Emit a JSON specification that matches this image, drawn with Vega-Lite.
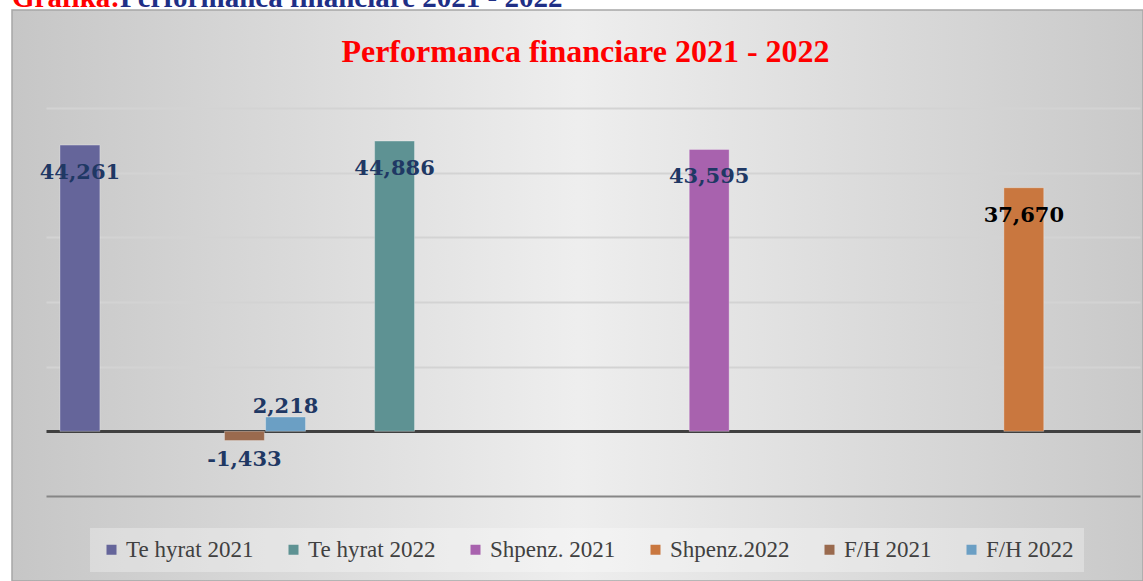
{
  "$schema": "https://vega.github.io/schema/vega-lite/v6.json",
  "width": 1131,
  "height": 571,
  "autosize": {"type": "none"},
  "padding": {"left": 12, "top": 10, "right": 0, "bottom": 0},
  "background": "#ffffff",
  "title": {
    "text": "Performanca financiare 2021 - 2022",
    "color": "#ff0000",
    "font": "Liberation Serif",
    "fontSize": 32,
    "fontWeight": "bold",
    "anchor": "middle",
    "frame": "group",
    "baseline": "alphabetic",
    "offset": -110,
    "dx": 8
  },
  "data": {
    "values": [
      {"kategoria": "1", "seria": "Te hyrat 2021", "vlera": 44261},
      {"kategoria": "2", "seria": "Te hyrat 2022", "vlera": 44886},
      {"kategoria": "3", "seria": "Shpenz. 2021", "vlera": 43595},
      {"kategoria": "4", "seria": "Shpenz.2022", "vlera": 37670},
      {"kategoria": "1", "seria": "F/H 2021", "vlera": -1433},
      {"kategoria": "1", "seria": "F/H 2022", "vlera": 2218}
    ]
  },
  "layer": [
    {
      "mark": {"type": "bar", "stroke": "#ffffff", "strokeOpacity": 0.3, "strokeWidth": 1},
      "encoding": {
        "x": {
          "field": "kategoria",
          "type": "nominal",
          "scale": {"domain": ["1", "2", "3", "4"], "range": [34, 1128], "paddingInner": 0, "paddingOuter": 0},
          "axis": null
        },
        "xOffset": {
          "field": "seria",
          "type": "nominal",
          "scale": {
            "domain": ["Te hyrat 2021", "Te hyrat 2022", "Shpenz. 2021", "Shpenz.2022", "F/H 2021", "F/H 2022"],
            "paddingInner": 0.03,
            "paddingOuter": 0.34
          }
        },
        "y": {
          "field": "vlera",
          "type": "quantitative",
          "scale": {"domain": [-10000, 50000], "range": [486, 98], "nice": false, "zero": false},
          "axis": {
            "title": null,
            "values": [-10000, 0, 10000, 20000, 30000, 40000, 50000],
            "gridColor": {
              "condition": [
                {"test": "datum.value === 0", "value": "#404040"},
                {"test": "datum.value === -10000", "value": "#868686"}
              ],
              "value": "#d3d3d3"
            },
            "gridWidth": {
              "condition": {"test": "datum.value === 0", "value": 3},
              "value": 2
            }
          }
        },
        "color": {
          "field": "seria",
          "type": "nominal",
          "scale": {
            "domain": ["Te hyrat 2021", "Te hyrat 2022", "Shpenz. 2021", "Shpenz.2022", "F/H 2021", "F/H 2022"],
            "range": ["#65659a", "#5e9293", "#a862ae", "#c9773f", "#9a6a4e", "#6b9fc4"]
          },
          "legend": {
            "orient": "none",
            "legendX": 78,
            "legendY": 518,
            "direction": "horizontal",
            "columns": 6,
            "title": null,
            "symbolType": "square",
            "symbolSize": 100,
            "symbolStrokeWidth": 0,
            "labelFont": "Liberation Serif",
            "labelFontSize": 23,
            "labelColor": "#404040",
            "labelOffset": 3,
            "labelLimit": 0,
            "columnPadding": 28,
            "padding": 10,
            "fillColor": "rgba(255,255,255,0.3)"
          }
        }
      }
    },
    {
      "transform": [{"filter": {"field": "seria", "oneOf": ["Te hyrat 2021", "Te hyrat 2022", "Shpenz. 2021", "Shpenz.2022"]}}],
      "mark": {"type": "text", "font": "DejaVu Serif", "fontSize": 21, "fontWeight": "bold", "baseline": "alphabetic", "align": "center", "dy": 34},
      "encoding": {
        "x": {"field": "kategoria", "type": "nominal", "axis": null},
        "xOffset": {"field": "seria", "type": "nominal"},
        "y": {"field": "vlera", "type": "quantitative", "axis": {"title": null}},
        "text": {"field": "vlera", "type": "quantitative", "format": ",.0f"},
        "color": {"condition": {"test": "datum.seria === 'Shpenz.2022'", "value": "#000000"}, "value": "#1f3864"}
      }
    },
    {
      "transform": [{"filter": {"field": "seria", "equal": "F/H 2022"}}],
      "mark": {"type": "text", "font": "DejaVu Serif", "fontSize": 21, "fontWeight": "bold", "baseline": "alphabetic", "align": "center", "dy": -4, "color": "#1f3864"},
      "encoding": {
        "x": {"field": "kategoria", "type": "nominal", "axis": null},
        "xOffset": {"field": "seria", "type": "nominal"},
        "y": {"field": "vlera", "type": "quantitative", "axis": {"title": null}},
        "text": {"field": "vlera", "type": "quantitative", "format": ",.0f"}
      }
    },
    {
      "transform": [{"filter": {"field": "seria", "equal": "F/H 2021"}}],
      "mark": {"type": "text", "font": "DejaVu Serif", "fontSize": 21, "fontWeight": "bold", "baseline": "alphabetic", "align": "center", "dy": 25, "color": "#1f3864"},
      "encoding": {
        "x": {"field": "kategoria", "type": "nominal", "axis": null},
        "xOffset": {"field": "seria", "type": "nominal"},
        "y": {"field": "vlera", "type": "quantitative", "axis": {"title": null}},
        "text": {"field": "vlera", "type": "quantitative", "format": ",.0f"}
      }
    },
    {
      "data": {"values": [{"tekst": "Grafika:"}]},
      "mark": {"type": "text", "font": "Liberation Serif", "fontSize": 29, "fontWeight": "bold", "baseline": "alphabetic", "align": "left", "dx": -34, "color": "#ff0000"},
      "encoding": {
        "x": {"datum": "1", "type": "nominal", "bandPosition": 0, "axis": null},
        "y": {"datum": 65600, "type": "quantitative", "scale": {"domain": [-10000, 50000]}, "axis": {"title": null}},
        "text": {"field": "tekst", "type": "nominal"}
      }
    },
    {
      "data": {"values": [{"tekst": "Performanca financiare 2021 - 2022"}]},
      "mark": {"type": "text", "font": "Liberation Serif", "fontSize": 29, "fontWeight": "bold", "baseline": "alphabetic", "align": "left", "dx": 74, "color": "#1f2f86"},
      "encoding": {
        "x": {"datum": "1", "type": "nominal", "bandPosition": 0, "axis": null},
        "y": {"datum": 65600, "type": "quantitative", "scale": {"domain": [-10000, 50000]}, "axis": {"title": null}},
        "text": {"field": "tekst", "type": "nominal"}
      }
    }
  ],
  "config": {
    "locale": {"number": {"decimal": ".", "thousands": ",", "grouping": [3], "currency": ["", ""], "minus": "-"}},
    "view": {
      "fill": {
        "gradient": "linear",
        "x1": 0, "y1": 0, "x2": 1, "y2": 0,
        "stops": [
          {"offset": 0, "color": "#c6c6c6"},
          {"offset": 0.5, "color": "#eeeeee"},
          {"offset": 1, "color": "#c9c9c9"}
        ]
      },
      "stroke": "#a6a6a6",
      "strokeWidth": 1.5
    },
    "axisY": {"grid": true, "labels": false, "ticks": false, "domain": false, "gridWidth": 2}
  }
}
